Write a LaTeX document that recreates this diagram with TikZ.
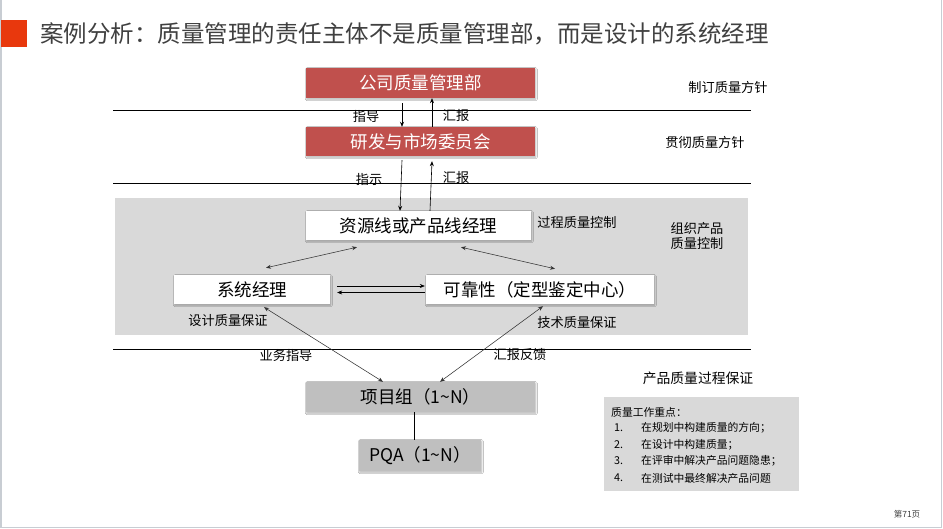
\documentclass[tikz,border=0pt]{standalone}
\usepackage{fontspec}
\setmainfont{Noto Sans CJK SC}
\usetikzlibrary{arrows.meta,shadows.blur}
\definecolor{boxred}{HTML}{C0504D}
\definecolor{titlered}{HTML}{E8380D}
\definecolor{titlegray}{HTML}{404040}
\definecolor{panelgray}{HTML}{D9D9D9}
\definecolor{boxgray}{HTML}{BFBFBF}
\definecolor{bordergray}{HTML}{C8CDD3}
\definecolor{arrgray}{HTML}{333333}
\tikzset{
  shbox/.style={blur shadow={shadow xshift=0.8pt, shadow yshift=-1.2pt, shadow blur radius=1.5pt, shadow opacity=30, shadow blur steps=5}},
  redbox/.style={shbox, fill=boxred, text=white, inner sep=0, font=\fontsize{17.5}{20}\selectfont},
  whitebox/.style={shbox, fill=white, text=black, inner sep=0, font=\fontsize{17.5}{20}\selectfont},
  graybox/.style={shbox, fill=boxgray, text=black, inner sep=0, font=\fontsize{17.5}{20}\selectfont},
  lbl/.style={inner sep=0, text=black, font=\fontsize{13.2}{15}\selectfont},
  note/.style={inner sep=0, anchor=west, text=black, font=\fontsize{10.8}{13}\selectfont},
  arr/.style={-{Stealth[length=5pt,width=4pt]}, line width=0.6pt, black},
  darr/.style={{Stealth[length=5pt,width=4pt]}-{Stealth[length=5pt,width=4pt]}, line width=0.55pt, arrgray},
  hline/.style={line width=0.8pt, black}
}
\begin{document}
\begin{tikzpicture}[x=1pt,y=-1pt]
\useasboundingbox (0,0) rectangle (943,529);
\fill[white] (0,0) rectangle (943,529);
\draw[bordergray, line width=1.3pt] (1,0) -- (1,527.5) -- (941.5,527.5) -- (941.5,0);

% title
\fill[titlered] (1,20) rectangle (27,47);
\node[anchor=west, text=titlegray, inner sep=0, font=\fontsize{23.5}{27}\selectfont] (title) at (40,34) {案例分析：质量管理的责任主体不是质量管理部，而是设计的系统经理};

% panel and lines
\fill[panelgray] (115,198) rectangle (748,335);
\draw[hline] (113,110) -- (751,110);
\draw[hline] (113,183) -- (751,183);
\draw[hline] (113,349) -- (751,349);

% boxes
\node[redbox, minimum width=229pt, minimum height=30pt] (n1) at (420.5,83) {公司质量管理部};
\node[redbox, minimum width=229pt, minimum height=29pt] (n2) at (420.5,141.5) {研发与市场委员会};
\node[whitebox, minimum width=225pt, minimum height=29pt] (n3) at (418.5,225.5) {资源线或产品线经理};
\node[whitebox, minimum width=156pt, minimum height=29pt] (n4) at (252,289.5) {系统经理};
\node[whitebox, minimum width=228pt, minimum height=29pt] (n5) at (540,289.5) {可靠性（定型鉴定中心）};
\node[graybox, minimum width=229pt, minimum height=30pt] (n6) at (420.5,397) {项目组（1\textasciitilde N）};
\node[graybox, minimum width=122pt, minimum height=31pt] (n7) at (420,455.5) {PQA（1\textasciitilde N）};

% vertical arrows
\draw[arr] ([shift={(-18.5,5)}]n1.south) -- ([xshift=-18.5pt]n2.north);
\draw[arr] ([xshift=11.5pt]n2.north) -- ([xshift=11.5pt]n1.south);
\draw[arr] ([shift={(-18.5,4)}]n2.south) -- ([xshift=-18.5pt]n3.north);
\draw[arr] ([xshift=11.5pt]n3.north) -- ([shift={(11.5,5)}]n2.south);

% diagonal double arrows
\draw[darr] ([shift={(-61.5,7)}]n3.south) -- ([shift={(14,-7)}]n4.north);
\draw[darr] ([shift={(42.5,7)}]n3.south) -- ([shift={(15,-6)}]n5.north);
\draw[arr, line width=0.5pt] ([shift={(7,-3.5)}]n4.east) -- ([shift={(-1,-3.5)}]n5.west);
\draw[arr, line width=0.5pt] ([shift={(-1,3)}]n5.west) -- ([shift={(7,3)}]n4.east);
\draw[darr] ([shift={(-37.5,0)}]n6.north) -- ([shift={(12,3)}]n4.south);
\draw[darr] ([shift={(19.5,0)}]n6.north) -- ([shift={(3,2)}]n5.south);
\draw[line width=0.7pt] ([xshift=-6.5pt]n6.south) -- ([xshift=-6pt]n7.north);

% labels
\node[lbl] (l1) at (366,116) {指导};
\node[lbl] (l2) at (456,116) {汇报};
\node[lbl] (l3) at (369,179) {指示};
\node[lbl] (l4) at (456,177) {汇报};
\node[lbl] (l5) at (577,222) {过程质量控制};
\node[lbl, align=left, font=\fontsize{13.2}{14.5}\selectfont] (l6) at (697,236) {组织产品\\质量控制};
\node[lbl] (l7) at (728,87) {制订质量方针};
\node[lbl] (l8) at (705,142) {贯彻质量方针};
\node[lbl] (l9) at (228,321) {设计质量保证};
\node[lbl] (l10) at (577,322) {技术质量保证};
\node[lbl] (l11) at (286,355) {业务指导};
\node[lbl] (l12) at (520,355) {汇报反馈};
\node[lbl, font=\fontsize{13.8}{16}\selectfont] (l13) at (698,378) {产品质量过程保证};

% notes box
\node[fill=panelgray, anchor=north west, minimum width=195pt, minimum height=94pt, inner sep=0] (nb) at (604,397) {};
\node[note] (t0) at (611,412) {质量工作重点：};
\node[note] (t1a) at (614,428) {1.};
\node[note] (t1) at (641,428) {在规划中构建质量的方向；};
\node[note] (t2a) at (614,444.5) {2.};
\node[note] (t2) at (641,444.5) {在设计中构建质量；};
\node[note] (t3a) at (614,461) {3.};
\node[note] (t3) at (641,461) {在评审中解决产品问题隐患；};
\node[note] (t4a) at (614,478) {4.};
\node[note] (t4) at (641,478) {在测试中最终解决产品问题};

\node[inner sep=0, text=titlegray, font=\fontsize{8.5}{10}\selectfont] (pg) at (907,514) {第71页};
\end{tikzpicture}
\end{document}
